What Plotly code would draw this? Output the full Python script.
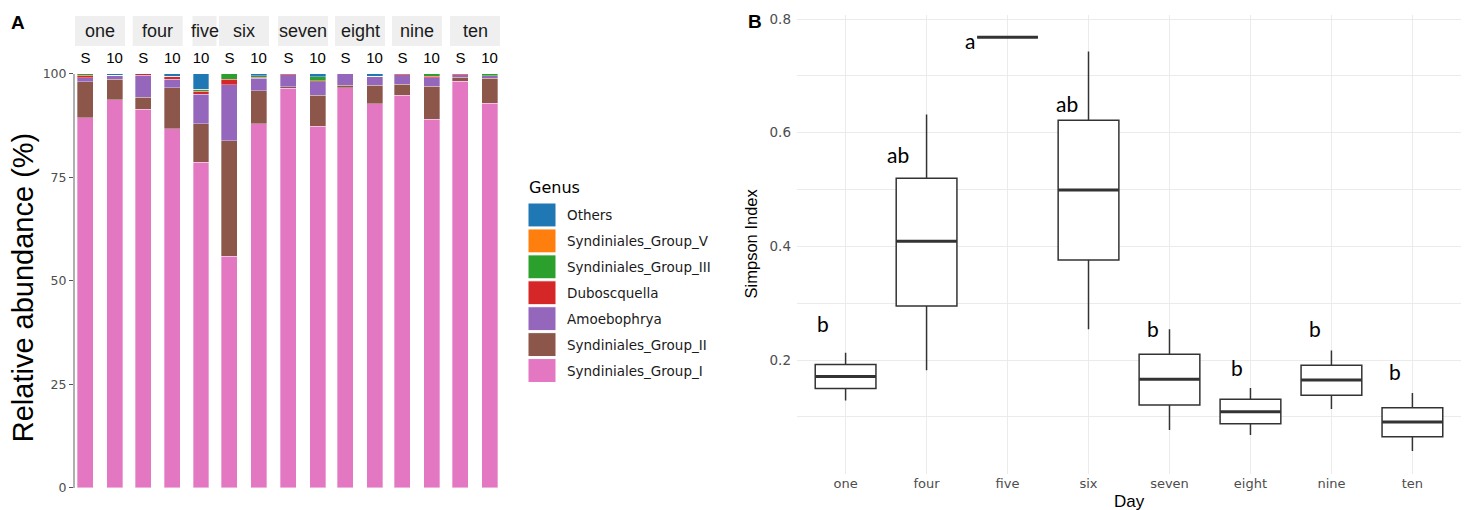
import plotly.graph_objects as go

# ---------------- data: panel A ----------------
facets = ["one", "four", "five", "six", "seven", "eight", "nine", "ten"]
sample_facet = ["one", "one", "four", "four", "five", "six", "six", "seven", "seven",
                "eight", "eight", "nine", "nine", "ten", "ten"]
sample_depth = ["S", "10", "S", "10", "10", "S", "10", "S", "10",
                "S", "10", "S", "10", "S", "10"]

group_I = [89.4, 93.8, 91.4, 86.8, 78.6, 55.9, 87.9, 96.5, 87.4, 96.6, 92.8, 94.9, 89.1, 98.2, 92.9]
group_II = [8.7, 4.9, 2.9, 9.9, 9.3, 28.0, 8.0, 0.4, 7.5, 0.7, 4.5, 2.6, 7.9, 1.0, 6.0]
amoebophrya = [1.0, 1.0, 5.4, 2.0, 7.2, 13.5, 3.0, 2.9, 3.2, 2.7, 2.1, 2.3, 2.1, 0.6, 0.7]
duboscquella = [0.6, 0.0, 0.3, 0.7, 0.7, 1.3, 0.3, 0.2, 0.3, 0.0, 0.0, 0.2, 0.3, 0.2, 0.0]
group_III = [0.3, 0.0, 0.0, 0.0, 0.5, 1.3, 0.4, 0.0, 0.9, 0.0, 0.0, 0.0, 0.6, 0.0, 0.4]
group_V = [0.0] * 15
others = [0.0, 0.3, 0.0, 0.6, 3.7, 0.0, 0.4, 0.0, 0.7, 0.0, 0.6, 0.0, 0.0, 0.0, 0.0]

genus_names = ["Others", "Syndiniales_Group_V", "Syndiniales_Group_III", "Duboscquella",
               "Amoebophrya", "Syndiniales_Group_II", "Syndiniales_Group_I"]
genus_colors = ["#1f77b4", "#ff7f0e", "#2ca02c", "#d62728", "#9467bd", "#8c564b", "#e377c2"]
genus_values = [others, group_V, group_III, duboscquella, amoebophrya, group_II, group_I]

# ---------------- data: panel B ----------------
days = ["one", "four", "five", "six", "seven", "eight", "nine", "ten"]
lower = [0.129, 0.182, 0.768, 0.254, 0.077, 0.068, 0.114, 0.040]
q1 = [0.150, 0.295, 0.768, 0.376, 0.121, 0.088, 0.138, 0.065]
median = [0.171, 0.409, 0.768, 0.499, 0.166, 0.109, 0.165, 0.091]
q3 = [0.192, 0.520, 0.768, 0.622, 0.210, 0.131, 0.191, 0.116]
upper = [0.213, 0.632, 0.768, 0.743, 0.254, 0.151, 0.217, 0.142]
letters = ["b", "ab", "a", "ab", "b", "b", "b", "b"]
letter_y = [0.265, 0.561, 0.762, 0.651, 0.256, 0.186, 0.256, 0.179]
letter_dx = [-0.28, -0.35, -0.46, -0.27, -0.20, -0.17, -0.20, -0.21]

# ---------------- layout helpers ----------------
W, H = 1467, 510
VS, VO = 0.9735, 5.9  # compensation for the vertical squeeze seen in the rendered photo


def px(x):
    return x / W


def py(y):
    yd = (y - VO) / VS
    return 1 - yd / H


FONT = "Liberation Sans, Arial, sans-serif"
WIDE = "DejaVu Sans, sans-serif"
facet_left = [75, 132.7, 192.5, 219, 278, 335, 392, 450]
slot_w = 50
five_w = 17

fig = go.Figure()
layout = dict(
    width=W, height=H, margin=dict(l=0, r=0, t=0, b=0),
    paper_bgcolor="white", plot_bgcolor="white",
    barmode="stack", showlegend=False,
    font=dict(family=FONT, color="black"),
)

shapes = []
annotations = []

for fi, f in enumerate(facets):
    idx = [i for i, s in enumerate(sample_facet) if s == f]
    depths = [sample_depth[i] for i in idx]
    suffix = "" if fi == 0 else str(fi + 1)
    # stack from bottom (Group_I) to top (Others)
    for name, col, vals in reversed(list(zip(genus_names, genus_colors, genus_values))):
        fig.add_trace(go.Bar(
            x=depths, y=[vals[i] for i in idx], name=name,
            marker=dict(color=col, line=dict(color="rgba(255,255,255,0.55)", width=0.6)),
            width=0.55, xaxis="x" + suffix, yaxis="y", showlegend=False,
        ))
    w = five_w if len(idx) == 1 else slot_w
    left = facet_left[fi]
    rng = [-0.3, 0.3] if len(idx) == 1 else [-0.36, 1.36]
    layout["xaxis" + suffix] = dict(
        domain=[px(left), px(left + w)], anchor="y", side="top",
        type="category", categoryorder="array", categoryarray=depths,
        range=rng, showline=False, ticks="", showgrid=False, zeroline=False,
        tickfont=dict(size=15, color="black", family=FONT), ticklabelstandoff=7,
    )
    # facet strip
    sw = 24 if len(idx) == 1 else w
    shapes.append(dict(type="rect", xref="paper", yref="paper",
                       x0=px(left), x1=px(left + sw), y0=py(44), y1=py(14),
                       fillcolor="#efefef", line=dict(width=0), layer="below"))
    annotations.append(dict(x=px(left + sw / 2), y=py(29), xref="paper", yref="paper",
                            text=f, showarrow=False, xanchor="center", yanchor="middle",
                            font=dict(size=18, color="#1a1a1a", family=FONT)))

layout["yaxis"] = dict(
    domain=[py(487), py(72)], range=[0, 100], anchor="x",
    tickvals=[0, 25, 50, 75, 100], showline=True, linecolor="#b0b0b0", linewidth=2,
    ticks="outside", ticklen=4, tickcolor="#555555",
    tickfont=dict(size=12.5, color="#4d4d4d", family=WIDE),
    showgrid=False, zeroline=False,
)

# ---------------- panel B ----------------
fig.add_trace(go.Box(
    x=days, q1=q1, median=median, q3=q3, lowerfence=lower, upperfence=upper,
    xaxis="x9", yaxis="y2", width=0.75, fillcolor="white",
    line=dict(color="#333333", width=1.5), whiskerwidth=0, boxpoints=False,
    showlegend=False,
))
fig.add_trace(go.Box(
    x=days, q1=median, median=median, q3=median, lowerfence=median, upperfence=median,
    xaxis="x9", yaxis="y2", width=0.75, fillcolor="rgba(0,0,0,0)",
    line=dict(color="#333333", width=3), whiskerwidth=0, boxpoints=False,
    showlegend=False,
))

layout["xaxis9"] = dict(
    domain=[px(797), px(1461)], anchor="y2", type="category",
    categoryorder="array", categoryarray=days, range=[-0.6, 7.6],
    showgrid=True, gridcolor="#ebebeb", gridwidth=1, ticks="", showline=False,
    zeroline=False, tickfont=dict(size=13, color="#4d4d4d", family=WIDE),
)
layout["yaxis2"] = dict(
    domain=[py(473), py(13)], range=[0, 0.807], anchor="x9",
    tickvals=[0.2, 0.4, 0.6, 0.8], ticktext=["0.2", "0.4", "0.6", "0.8"],
    showgrid=True, gridcolor="#ebebeb", gridwidth=1, zeroline=False, ticks="",
    tickfont=dict(size=13.5, color="#4d4d4d", family=WIDE), ticklabelstandoff=5,
    minor=dict(tickvals=[0.1, 0.3, 0.5, 0.7], showgrid=True, gridcolor="#ebebeb", gridwidth=1),
)

for i, (t, yv, dx) in enumerate(zip(letters, letter_y, letter_dx)):
    annotations.append(dict(x=i + dx, y=yv, xref="x9", yref="y2", text=t, showarrow=False,
                            xanchor="center", yanchor="middle",
                            font=dict(size=21, color="black", family="Lato, sans-serif")))

# axis titles / panel labels
annotations += [
    dict(x=px(23), y=py(286), xref="paper", yref="paper", text="Relative abundance (%)",
         textangle=-90, showarrow=False, xanchor="center", yanchor="middle",
         font=dict(size=29, color="black", family=FONT)),
    dict(x=px(751), y=py(242), xref="paper", yref="paper", text="Simpson Index",
         textangle=-90, showarrow=False, xanchor="center", yanchor="middle",
         font=dict(size=16.5, color="black", family=FONT)),
    dict(x=px(1129), y=py(501), xref="paper", yref="paper", text="Day",
         showarrow=False, xanchor="center", yanchor="middle",
         font=dict(size=17, color="black", family=FONT)),
    dict(x=px(18), y=py(20), xref="paper", yref="paper", text="<b>A</b>",
         showarrow=False, xanchor="center", yanchor="middle",
         font=dict(size=19, color="black", family=FONT)),
    dict(x=px(755), y=py(19), xref="paper", yref="paper", text="<b>B</b>",
         showarrow=False, xanchor="center", yanchor="middle",
         font=dict(size=19, color="black", family=FONT)),
    dict(x=px(527), y=py(186), xref="paper", yref="paper", text="Genus",
         showarrow=False, xanchor="left", yanchor="middle",
         font=dict(size=16, color="black", family=WIDE)),
]

# custom legend (large keys like ggplot)
for k, (name, col) in enumerate(zip(genus_names, genus_colors)):
    top = 201.5 + k * 26
    shapes.append(dict(type="rect", xref="paper", yref="paper",
                       x0=px(528), x1=px(556), y0=py(top + 24), y1=py(top),
                       fillcolor=col, line=dict(color="white", width=1)))
    annotations.append(dict(x=px(565), y=py(top + 12), xref="paper", yref="paper",
                            text=name, showarrow=False, xanchor="left", yanchor="middle",
                            font=dict(size=13.5, color="#1a1a1a", family=WIDE)))

layout["shapes"] = shapes
layout["annotations"] = annotations
fig.update_layout(**layout)
fig.write_html("out.html")
